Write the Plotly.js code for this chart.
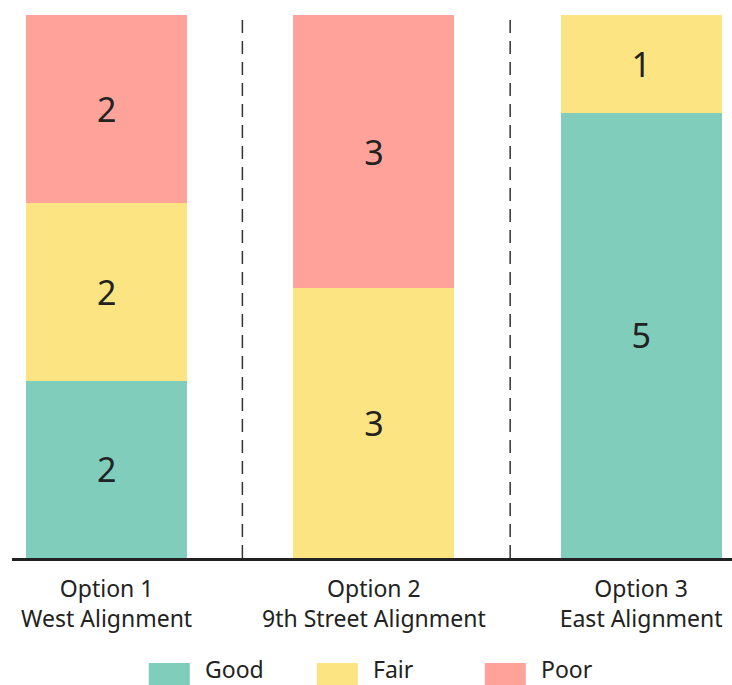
<!DOCTYPE html>
<html>
<head>
<meta charset="utf-8">
<script src="https://cdn.plot.ly/plotly-3.0.1.min.js"></script>
<style>html,body{margin:0;padding:0;background:#fff;}#chart{width:732px;height:685px;}</style>
</head>
<body>
<div id="chart"></div>
<script>
// Data
const categories = ["Option 1<br>West Alignment", "Option 2<br>9th Street Alignment", "Option 3<br>East Alignment"];
const seriesNames = ["Good", "Fair", "Poor"];
const seriesColors = ["#81CDBC", "#FBE481", "#FFA299"];
// bar heights (share of each option's bar, %)
const goodShare = [32.6, 0, 82.0];
const fairShare = [32.8, 49.7, 18.0];
const poorShare = [34.6, 50.3, 0];
// counts shown in each segment
const goodCount = [2, 0, 5];
const fairCount = [2, 3, 1];
const poorCount = [2, 3, 0];

const shares = [goodShare, fairShare, poorShare];
const counts = [goodCount, fairCount, poorCount];

const FONT = "'Noto Sans', sans-serif";
const TXT = "#222222";

const traces = seriesNames.map((name, i) => ({
  type: "bar",
  name: name,
  x: categories,
  y: shares[i],
  text: counts[i].map(c => c > 0 ? String(c) : ""),
  textposition: "inside",
  insidetextanchor: "middle",
  textfont: {family: FONT, size: 34, color: TXT},
  marker: {color: seriesColors[i], line: {width: 0}},
  hoverinfo: "skip",
  showlegend: false
}));

const shapes = [];
// category separators
[0.508, 1.51].forEach(xv => shapes.push({
  type: "line", xref: "x", yref: "paper", x0: xv, x1: xv, y0: 0, y1: 1,
  line: {color: "#333333", width: 1.5, dash: "13px,8px"}
}));

// custom legend
const annotations = [];
const legX0 = 0.190, legStep = 168 / 720, swW = 41 / 720;
seriesNames.forEach((name, i) => {
  const x0 = legX0 + i * legStep;
  shapes.push({
    type: "rect", xref: "paper", yref: "paper",
    x0: x0, x1: x0 + swW, y0: -0.2338, y1: -0.1934,
    fillcolor: seriesColors[i], line: {width: 0}
  });
  annotations.push({
    xref: "paper", yref: "paper", x: x0 + swW + 13 / 720, y: -0.2053,
    xanchor: "left", yanchor: "middle", showarrow: false,
    text: name, font: {family: FONT, size: 23, color: TXT}
  });
});

const layout = {
  width: 732, height: 685,
  margin: {l: 12, r: 0, t: 15, b: 127},
  paper_bgcolor: "#ffffff", plot_bgcolor: "#ffffff",
  barmode: "stack",
  bargap: 0.398,
  showlegend: false,
  font: {family: FONT, color: TXT},
  xaxis: {
    type: "category",
    range: [-0.354, 2.340],
    showline: true, linecolor: "#222222", linewidth: 3,
    showgrid: false, zeroline: false,
    ticks: "", ticklabelstandoff: 8,
    tickfont: {family: FONT, size: 23, color: TXT}
  },
  yaxis: {
    range: [0, 100],
    showgrid: false, zeroline: false, showline: false,
    showticklabels: false, ticks: ""
  },
  shapes: shapes,
  annotations: annotations
};

Plotly.newPlot("chart", traces, layout, {displayModeBar: false, staticPlot: true});
</script>
</body>
</html>
